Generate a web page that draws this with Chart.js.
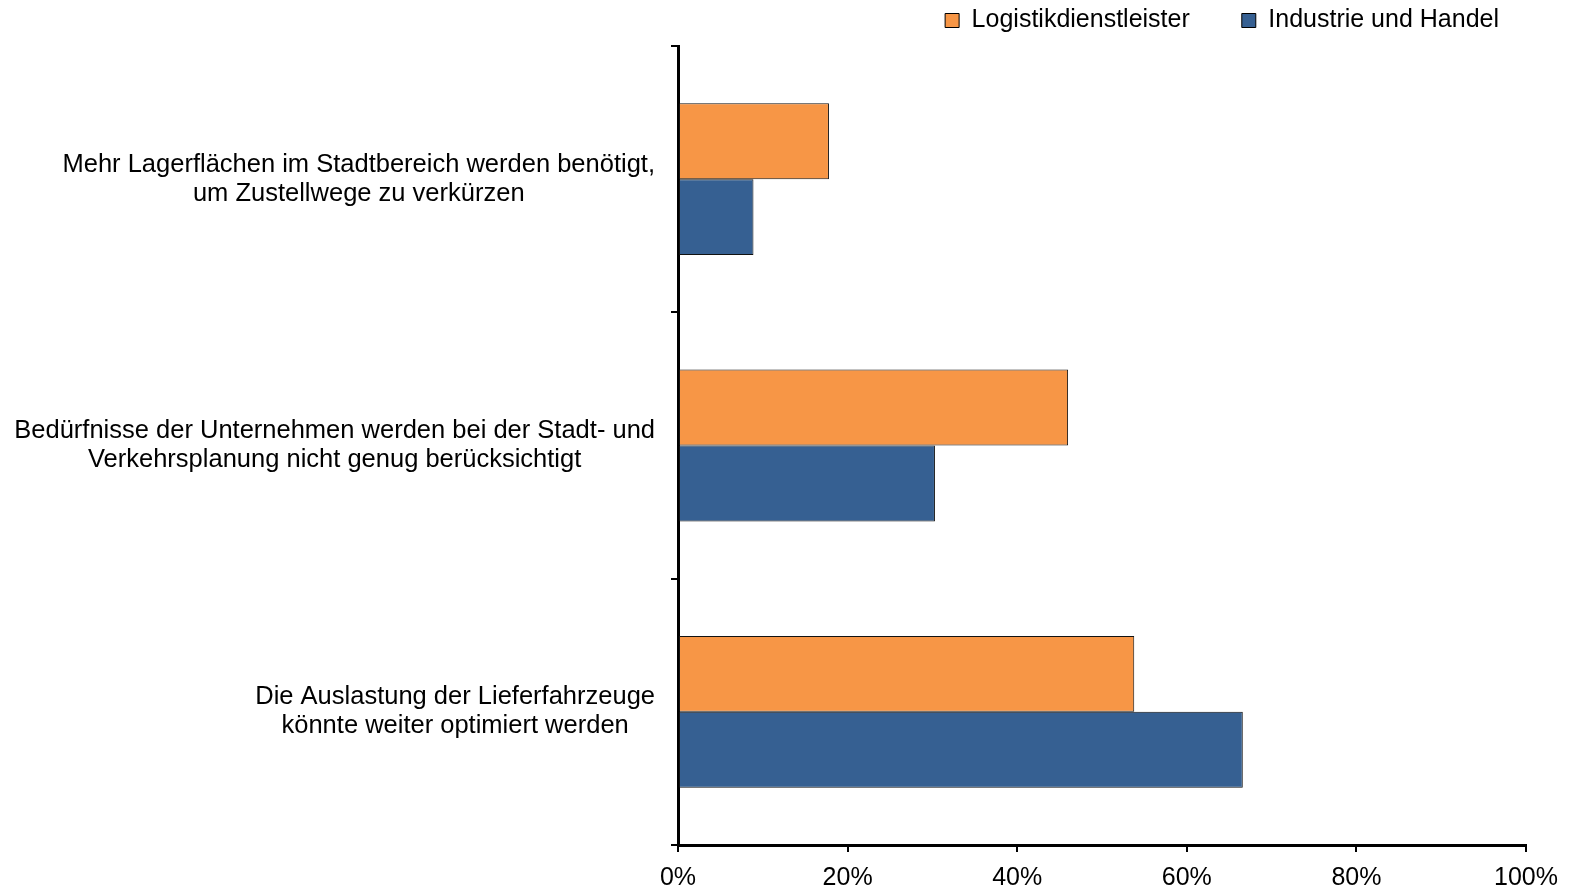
<!DOCTYPE html>
<html>
<head>
<meta charset="utf-8">
<script src="https://cdn.jsdelivr.net/npm/chart.js@4.4.0/dist/chart.umd.min.js"></script>
<style>
  html, body { margin: 0; padding: 0; background: #fff; }
  #wrap { width: 1569px; height: 889px; }
</style>
</head>
<body>
<div id="wrap"><canvas id="barChart" width="1569" height="889"></canvas></div>
<script>
const categories = [
  ['Mehr Lagerflächen im Stadtbereich werden benötigt,', 'um Zustellwege zu verkürzen'],
  ['Bedürfnisse der Unternehmen werden bei der Stadt- und', 'Verkehrsplanung nicht genug berücksichtigt'],
  ['Die Auslastung der Lieferfahrzeuge', 'könnte weiter optimiert werden']
];
const logistik = [17.8, 46.0, 53.8];
const industrie = [8.9, 30.3, 66.6];
const xTicks = [0, 20, 40, 60, 80, 100];

const FONT = "'Liberation Sans', Arial, sans-serif";
const LEGEND_SHIFT = 3;

// category labels: each block right-aligned, lines centred within the block
const catLabels = {
  id: 'catLabels',
  afterLayout(chart) {
    // pull the legend up a bit without moving the plot area
    chart.legend.top -= LEGEND_SHIFT;
    chart.legend.bottom -= LEGEND_SHIFT;
  },
  afterDraw(chart) {
    const ctx = chart.ctx;
    const y = chart.scales.y;
    ctx.save();
    ctx.font = '25.5px ' + FONT;
    ctx.fillStyle = '#000';
    ctx.textAlign = 'center';
    ctx.textBaseline = 'middle';
    const right = chart.chartArea.left - 23;
    const lh = 29;
    categories.forEach((lines, i) => {
      const cy = y.getPixelForTick(i);
      const w = Math.max(...lines.map(l => ctx.measureText(l).width));
      const cx = right - w / 2;
      lines.forEach((l, k) => {
        ctx.fillText(l, cx, cy + (k - (lines.length - 1) / 2) * lh);
      });
    });
    ctx.restore();
  }
};

new Chart(document.getElementById('barChart'), {
  type: 'bar',
  data: {
    labels: categories,
    datasets: [{
      label: 'Logistikdienstleister',
      data: logistik,
      backgroundColor: '#f79646',
      borderColor: '#111',
      borderWidth: 1,
      borderSkipped: false
    }, {
      label: 'Industrie und Handel',
      data: industrie,
      backgroundColor: '#366092',
      borderColor: '#111',
      borderWidth: 1,
      borderSkipped: false
    }]
  },
  options: {
    indexAxis: 'y',
    responsive: false,
    animation: false,
    categoryPercentage: 0.57,
    barPercentage: 1,
    layout: { padding: { top: -41, right: 18, bottom: 0, left: 0 } },
    plugins: {
      legend: {
        display: true,
        position: 'top',
        align: 'end',
        labels: {
          font: { family: FONT, size: 25 },
          color: '#000',
          boxWidth: 14,
          boxHeight: 14,
          padding: 52,
          generateLabels(chart) {
            return chart.data.datasets.map((ds, i) => ({
              text: ds.label,
              fillStyle: ds.backgroundColor,
              strokeStyle: '#000',
              lineWidth: 1,
              datasetIndex: i,
              fontColor: '#000'
            }));
          }
        }
      },
      tooltip: { enabled: false }
    },
    scales: {
      x: {
        min: 0,
        max: 100,
        afterBuildTicks(scale) {
          scale.ticks = xTicks.map(v => ({ value: v }));
        },
        afterFit(scale) { scale.height = 44; },
        ticks: {
          font: { family: FONT, size: 25 },
          color: '#000',
          padding: 11,
          maxRotation: 0,
          callback: v => v + '%'
        },
        grid: {
          drawOnChartArea: false,
          drawTicks: true,
          tickLength: 7,
          color: '#000',
          lineWidth: 2
        },
        border: { display: true, color: '#000', width: 3 }
      },
      y: {
        afterFit(scale) { scale.width = 678; },
        ticks: {
          font: { family: FONT, size: 22 },
          color: 'rgba(0,0,0,0)'
        },
        grid: {
          offset: true,
          drawOnChartArea: false,
          drawTicks: true,
          tickLength: 7,
          color: '#000',
          lineWidth: 2
        },
        border: { display: true, color: '#000', width: 3 }
      }
    }
  },
  plugins: [catLabels]
});
</script>
</body>
</html>
